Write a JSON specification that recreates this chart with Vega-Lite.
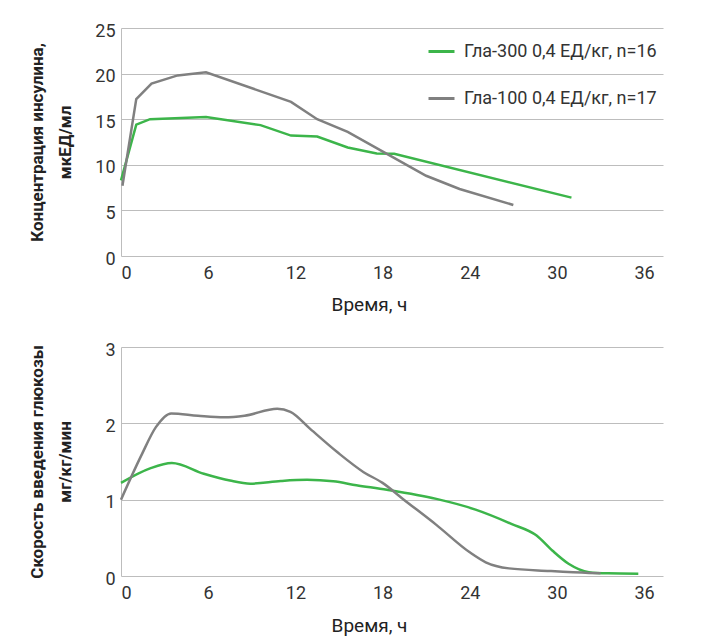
{
  "$schema": "https://vega.github.io/schema/vega-lite/v6.json",
  "background": "white",
  "padding": {"left": 27, "top": 22, "right": 40, "bottom": 4},
  "bounds": "flush",
  "spacing": 91,
  "config": {
    "font": "Roboto",
    "view": {"stroke": null},
    "axis": {
      "gridColor": "#bdbdbd",
      "gridWidth": 1,
      "domainColor": "#bdbdbd",
      "tickSize": 0,
      "labelFont": "Roboto",
      "labelFontSize": 18,
      "labelColor": "#333333",
      "titleFont": "Roboto",
      "titleColor": "#222222"
    }
  },
  "datasets": {
    "insulin": [
      {"series": "Гла-300 0,4 ЕД/кг, n=16", "t": 0, "v": 8.3},
      {"series": "Гла-300 0,4 ЕД/кг, n=16", "t": 1.05, "v": 14.4},
      {"series": "Гла-300 0,4 ЕД/кг, n=16", "t": 2.0, "v": 15.0},
      {"series": "Гла-300 0,4 ЕД/кг, n=16", "t": 5.85, "v": 15.25},
      {"series": "Гла-300 0,4 ЕД/кг, n=16", "t": 9.6, "v": 14.35},
      {"series": "Гла-300 0,4 ЕД/кг, n=16", "t": 11.7, "v": 13.2},
      {"series": "Гла-300 0,4 ЕД/кг, n=16", "t": 13.5, "v": 13.1},
      {"series": "Гла-300 0,4 ЕД/кг, n=16", "t": 15.6, "v": 11.9},
      {"series": "Гла-300 0,4 ЕД/кг, n=16", "t": 17.6, "v": 11.25},
      {"series": "Гла-300 0,4 ЕД/кг, n=16", "t": 18.8, "v": 11.2},
      {"series": "Гла-300 0,4 ЕД/кг, n=16", "t": 31.0, "v": 6.4},
      {"series": "Гла-100 0,4 ЕД/кг, n=17", "t": 0.1, "v": 7.7},
      {"series": "Гла-100 0,4 ЕД/кг, n=17", "t": 1.05, "v": 17.2},
      {"series": "Гла-100 0,4 ЕД/кг, n=17", "t": 2.1, "v": 18.9},
      {"series": "Гла-100 0,4 ЕД/кг, n=17", "t": 3.9, "v": 19.8},
      {"series": "Гла-100 0,4 ЕД/кг, n=17", "t": 5.85, "v": 20.15},
      {"series": "Гла-100 0,4 ЕД/кг, n=17", "t": 11.7, "v": 16.9},
      {"series": "Гла-100 0,4 ЕД/кг, n=17", "t": 13.5, "v": 15.0},
      {"series": "Гла-100 0,4 ЕД/кг, n=17", "t": 15.6, "v": 13.6},
      {"series": "Гла-100 0,4 ЕД/кг, n=17", "t": 18.3, "v": 11.2},
      {"series": "Гла-100 0,4 ЕД/кг, n=17", "t": 21.0, "v": 8.8},
      {"series": "Гла-100 0,4 ЕД/кг, n=17", "t": 23.3, "v": 7.35},
      {"series": "Гла-100 0,4 ЕД/кг, n=17", "t": 27.0, "v": 5.6}
    ],
    "gir": [
      {"series": "Гла-300 0,4 ЕД/кг, n=16", "t": 0, "v": 1.22},
      {"series": "Гла-300 0,4 ЕД/кг, n=16", "t": 2.0, "v": 1.41},
      {"series": "Гла-300 0,4 ЕД/кг, n=16", "t": 3.5, "v": 1.48},
      {"series": "Гла-300 0,4 ЕД/кг, n=16", "t": 5.7, "v": 1.34},
      {"series": "Гла-300 0,4 ЕД/кг, n=16", "t": 7.5, "v": 1.25},
      {"series": "Гла-300 0,4 ЕД/кг, n=16", "t": 8.9, "v": 1.21},
      {"series": "Гла-300 0,4 ЕД/кг, n=16", "t": 11.0, "v": 1.245},
      {"series": "Гла-300 0,4 ЕД/кг, n=16", "t": 12.8, "v": 1.26},
      {"series": "Гла-300 0,4 ЕД/кг, n=16", "t": 14.6, "v": 1.24},
      {"series": "Гла-300 0,4 ЕД/кг, n=16", "t": 16.2, "v": 1.19},
      {"series": "Гла-300 0,4 ЕД/кг, n=16", "t": 18.3, "v": 1.13},
      {"series": "Гла-300 0,4 ЕД/кг, n=16", "t": 21.7, "v": 1.01},
      {"series": "Гла-300 0,4 ЕД/кг, n=16", "t": 24.4, "v": 0.87},
      {"series": "Гла-300 0,4 ЕД/кг, n=16", "t": 26.9, "v": 0.68},
      {"series": "Гла-300 0,4 ЕД/кг, n=16", "t": 28.6, "v": 0.53},
      {"series": "Гла-300 0,4 ЕД/кг, n=16", "t": 29.7, "v": 0.33},
      {"series": "Гла-300 0,4 ЕД/кг, n=16", "t": 30.8, "v": 0.16},
      {"series": "Гла-300 0,4 ЕД/кг, n=16", "t": 32.2, "v": 0.05},
      {"series": "Гла-300 0,4 ЕД/кг, n=16", "t": 33.5, "v": 0.035},
      {"series": "Гла-300 0,4 ЕД/кг, n=16", "t": 35.6, "v": 0.03},
      {"series": "Гла-100 0,4 ЕД/кг, n=17", "t": 0, "v": 1.0},
      {"series": "Гла-100 0,4 ЕД/кг, n=17", "t": 1.4, "v": 1.58},
      {"series": "Гла-100 0,4 ЕД/кг, n=17", "t": 2.4, "v": 1.95},
      {"series": "Гла-100 0,4 ЕД/кг, n=17", "t": 3.45, "v": 2.13},
      {"series": "Гла-100 0,4 ЕД/кг, n=17", "t": 5.3, "v": 2.1},
      {"series": "Гла-100 0,4 ЕД/кг, n=17", "t": 7.1, "v": 2.08},
      {"series": "Гла-100 0,4 ЕД/кг, n=17", "t": 8.5, "v": 2.1},
      {"series": "Гла-100 0,4 ЕД/кг, n=17", "t": 10.75, "v": 2.19},
      {"series": "Гла-100 0,4 ЕД/кг, n=17", "t": 11.66, "v": 2.15},
      {"series": "Гла-100 0,4 ЕД/кг, n=17", "t": 13.0, "v": 1.93},
      {"series": "Гла-100 0,4 ЕД/кг, n=17", "t": 14.9, "v": 1.62},
      {"series": "Гла-100 0,4 ЕД/кг, n=17", "t": 16.7, "v": 1.36},
      {"series": "Гла-100 0,4 ЕД/кг, n=17", "t": 18.0, "v": 1.22},
      {"series": "Гла-100 0,4 ЕД/кг, n=17", "t": 19.4, "v": 1.01},
      {"series": "Гла-100 0,4 ЕД/кг, n=17", "t": 21.7, "v": 0.67},
      {"series": "Гла-100 0,4 ЕД/кг, n=17", "t": 24.0, "v": 0.31},
      {"series": "Гла-100 0,4 ЕД/кг, n=17", "t": 25.1, "v": 0.18},
      {"series": "Гла-100 0,4 ЕД/кг, n=17", "t": 26.7, "v": 0.1},
      {"series": "Гла-100 0,4 ЕД/кг, n=17", "t": 29.5, "v": 0.066},
      {"series": "Гла-100 0,4 ЕД/кг, n=17", "t": 32.2, "v": 0.04},
      {"series": "Гла-100 0,4 ЕД/кг, n=17", "t": 33.0, "v": 0.035}
    ]
  },
  "resolve": {"legend": {"color": "independent"}},
  "vconcat": [
    {
      "width": 542,
      "height": 228,
      "data": {"name": "insulin"},
      "mark": {"type": "line", "strokeWidth": 2.5},
      "encoding": {
        "x": {
          "field": "t", "type": "quantitative",
          "scale": {"domain": [0, 37.3], "nice": false},
          "axis": {"values": [0, 6, 12, 18, 24, 30, 36], "grid": false, "domain": false, "labelPadding": 8,
            "title": "Время, ч", "titleFontSize": 19, "titleFontWeight": "normal", "titleX": 248, "titleY": 39, "titleBaseline": "top"}
        },
        "y": {
          "field": "v", "type": "quantitative",
          "scale": {"domain": [0, 25], "nice": false},
          "axis": {"values": [0, 5, 10, 15, 20, 25], "grid": true, "domain": true, "labelPadding": 6, "labelOffset": 3,
            "title": ["Концентрация инсулина,", "мкЕД/мл"], "titleFontSize": 17, "titleFontWeight": "bold", "titleLineHeight": 28, "titleX": -92, "titleBaseline": "top"}
        },
        "color": {
          "field": "series", "type": "nominal",
          "scale": {"domain": ["Гла-300 0,4 ЕД/кг, n=16", "Гла-100 0,4 ЕД/кг, n=17"], "range": ["#3cb54a", "#808080"]},
          "legend": {"orient": "none", "legendX": 306, "legendY": 9, "title": null, "symbolType": "stroke", "symbolStrokeWidth": 3, "symbolSize": 676,
            "labelFont": "Roboto", "labelFontSize": 18, "labelColor": "#333333", "labelOffset": 8, "labelLimit": 0, "rowPadding": 23}
        }
      }
    },
    {
      "width": 542,
      "height": 229,
      "data": {"name": "gir"},
      "mark": {"type": "line", "strokeWidth": 2.5, "interpolate": "monotone"},
      "encoding": {
        "x": {
          "field": "t", "type": "quantitative",
          "scale": {"domain": [0, 37.3], "nice": false},
          "axis": {"values": [0, 6, 12, 18, 24, 30, 36], "grid": false, "domain": false, "labelPadding": 8,
            "title": "Время, ч", "titleFontSize": 19, "titleFontWeight": "normal", "titleX": 248, "titleY": 40, "titleBaseline": "top"}
        },
        "y": {
          "field": "v", "type": "quantitative",
          "scale": {"domain": [0, 3], "nice": false},
          "axis": {"values": [0, 1, 2, 3], "grid": true, "domain": true, "labelPadding": 6, "labelOffset": 3,
            "title": ["Скорость введения глюкозы", "мг/кг/мин"], "titleFontSize": 17, "titleFontWeight": "bold", "titleLineHeight": 28, "titleX": -92, "titleBaseline": "top"}
        },
        "color": {
          "field": "series", "type": "nominal",
          "scale": {"domain": ["Гла-300 0,4 ЕД/кг, n=16", "Гла-100 0,4 ЕД/кг, n=17"], "range": ["#3cb54a", "#808080"]},
          "legend": null
        }
      }
    }
  ]
}
